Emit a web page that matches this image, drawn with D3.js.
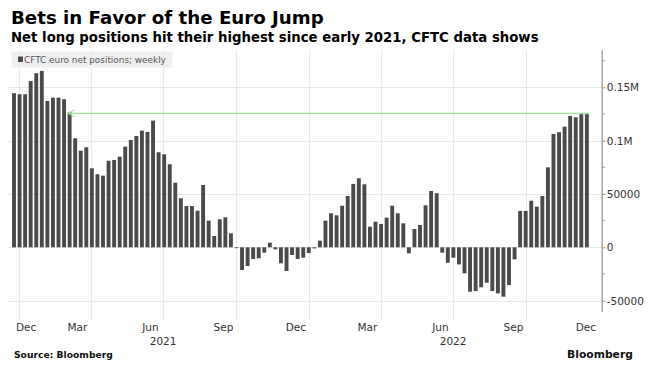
<!DOCTYPE html>
<html><head><meta charset="utf-8">
<script src="https://cdn.jsdelivr.net/npm/d3@7"></script>
<style>
body{margin:0;background:#fff;}
svg{display:block;font-family:"DejaVu Sans",Verdana,sans-serif;}
</style>
</head><body>
<svg id="c" width="656" height="373"></svg>
<script>
// ---------------- data ----------------
const titleText = "Bets in Favor of the Euro Jump";
const subtitleText = "Net long positions hit their highest since early 2021, CFTC data shows";
const legendText = "CFTC euro net positions; weekly";
const sourceText = "Source: Bloomberg";
const firstWeek = "2020-12-22"; // first weekly CFTC report (Tuesdays)
const netPositions = [
  144500,143500,143500,156000,163200,165400,137200,140300,140300,138800,
  126600,102200,90600,93800,74100,68500,67200,81200,81900,85000,
  94400,100600,104400,109400,108200,118800,89100,87200,77900,60600,
  46000,38700,38700,34300,58400,25000,10600,26300,28100,13100,
  -800,-21300,-17500,-11000,-10300,-5000,4300,-1900,-15000,-22200,
  -7200,-11000,-9700,-5300,-1000,6200,25000,31900,30000,39000,
  48100,59400,64700,59100,19300,24000,21900,27800,39000,31900,
  22500,-5600,17200,20900,39400,52800,50700,-5000,-14400,-9700,
  -16000,-24400,-41600,-41000,-37500,-33200,-41000,-43200,-46300,-35400,
  -11300,34100,34100,43700,38100,48100,75000,106300,107900,113100,
  123200,121900,124800,124800
];
const highlightLevel = 125600;      // green reference line level
const highlightFromIndex = 10;      // week the arrow points to
const yTickValues = [-50000, 0, 50000, 100000, 150000];
const yTickLabels = ["-50000", "0", "50000", "0.1M", "0.15M"];
const yMinorValues = [-25000, 25000, 75000, 125000, 175000];
const monthLabels = ["Dec","Mar","Jun","Sep","Dec","Mar","Jun","Sep","Dec"];
const monthLabelDates = ["2020-12-15","2021-03-15","2021-06-15","2021-09-15","2021-12-15","2022-03-15","2022-06-15","2022-09-15","2022-12-15"];
const yearLabels = ["2021","2022"];
const yearLabelDates = ["2021-07-01","2022-07-01"];
const gridDates = ["2021-01-01","2021-04-01","2021-07-01","2021-10-01","2022-01-01","2022-04-01","2022-07-01","2022-10-01"];

// ---------------- setup ----------------
const parse = d3.utcParse("%Y-%m-%d");
const start = parse(firstWeek);
const weeks = netPositions.map((v,i)=>({date:d3.utcDay.offset(start, 7*i), value:v}));

const svg = d3.select("#c");
const axisX = 601.7;
const x = d3.scaleUtc().domain([parse("2021-01-01"), parse("2023-01-01")]).range([19.3, 599.3]);
const y = d3.scaleLinear().domain([-60000, 185000]).range([311.3, 50]);

const gridColor = "#e8e8e8";
// horizontal grid
svg.append("g").selectAll("line").data(yTickValues).join("line")
  .attr("x1", 8).attr("x2", axisX)
  .attr("y1", d=>Math.round(y(d))+0.5).attr("y2", d=>Math.round(y(d))+0.5)
  .attr("stroke", gridColor).attr("stroke-width", 1);
// vertical grid
svg.append("g").selectAll("line").data(gridDates.map(parse)).join("line")
  .attr("x1", d=>Math.round(x(d))+0.5).attr("x2", d=>Math.round(x(d))+0.5)
  .attr("y1", 50).attr("y2", 320)
  .attr("stroke", gridColor).attr("stroke-width", 1);

// bars
const barW = 3.9;
svg.append("g").selectAll("rect").data(weeks).join("rect")
  .attr("x", d=>x(d.date)+0.7)
  .attr("width", barW)
  .attr("y", d=>y(Math.max(0,d.value)))
  .attr("height", d=>Math.max(0.8, Math.abs(y(d.value)-y(0))))
  .attr("fill", "#4a4a4a");

// highlight line with arrow
const hy = y(highlightLevel);
const hx0 = x(weeks[highlightFromIndex].date)+1.2;
const hx1 = x(weeks[weeks.length-1].date)+0.7+barW;
svg.append("line").attr("x1", hx0).attr("x2", hx1).attr("y1", hy).attr("y2", hy)
  .attr("stroke", "#9de09d").attr("stroke-width", 1.1);
svg.append("path")
  .attr("d", `M${hx0+6},${hy-3.5} L${hx0},${hy} L${hx0+6},${hy+3.5}`)
  .attr("fill","none").attr("stroke","#9de09d").attr("stroke-width",1.1);

// right axis
const ax = svg.append("g").attr("transform", `translate(${axisX},0)`)
  .call(d3.axisRight(y).tickValues(yTickValues).tickFormat((d,i)=>yTickLabels[i])
        .tickSize(4).tickSizeOuter(0).tickPadding(1));
ax.select(".domain").attr("stroke","#9a9a9a").attr("stroke-width",1.3);
ax.selectAll(".tick line").attr("stroke","#9a9a9a");
ax.selectAll(".tick text").attr("fill","#333").attr("font-size",10.5)
  .attr("font-family","DejaVu Sans, sans-serif");
svg.append("g").selectAll("line").data(yMinorValues).join("line")
  .attr("x1", axisX).attr("x2", axisX+3)
  .attr("y1", d=>y(d)).attr("y2", d=>y(d))
  .attr("stroke","#9a9a9a");

// x labels
const xl = svg.append("g").attr("font-size", 10.5).attr("fill", "#333").attr("text-anchor","middle");
xl.selectAll("text.m").data(monthLabels).join("text").attr("class","m")
  .text(d=>d)
  .attr("y", 331)
  .attr("x", function(d,i){
    const w = this.getComputedTextLength();
    return Math.max(x(parse(monthLabelDates[i])), 16 + w/2);
  });
xl.selectAll("text.yr").data(yearLabels).join("text").attr("class","yr")
  .text(d=>d).attr("y", 345).attr("x", (d,i)=>x(parse(yearLabelDates[i])));

// legend
svg.append("rect").attr("x",11.5).attr("y",51.5).attr("width",161).attr("height",16).attr("fill","#efefef");
svg.append("rect").attr("x",18).attr("y",56.5).attr("width",5).attr("height",5.5).attr("fill","#4a4a4a");
function fit(sel, w){
  const l = sel.node().getComputedTextLength();
  sel.attr("font-size", parseFloat(sel.attr("font-size"))*w/l);
  return sel;
}
fit(svg.append("text").text(legendText).attr("x",24).attr("y",62.8)
  .attr("font-size",9).attr("fill","#555"), 142);

// titles
fit(svg.append("text").text(titleText).attr("x",11).attr("y",24)
  .attr("font-size",18).attr("font-weight","bold").attr("fill","#000"), 313);
fit(svg.append("text").text(subtitleText).attr("x",11).attr("y",42)
  .attr("font-size",14).attr("font-weight","bold").attr("fill","#000"), 528);
fit(svg.append("text").text(sourceText).attr("x",14).attr("y",357.5)
  .attr("font-size",10).attr("font-weight","bold").attr("fill","#111"), 99);
fit(svg.append("text").text("Bloomberg").attr("x",567).attr("y",357.5)
  .attr("font-size",11).attr("font-weight","bold").attr("fill","#111"), 66);
</script>
</body></html>
